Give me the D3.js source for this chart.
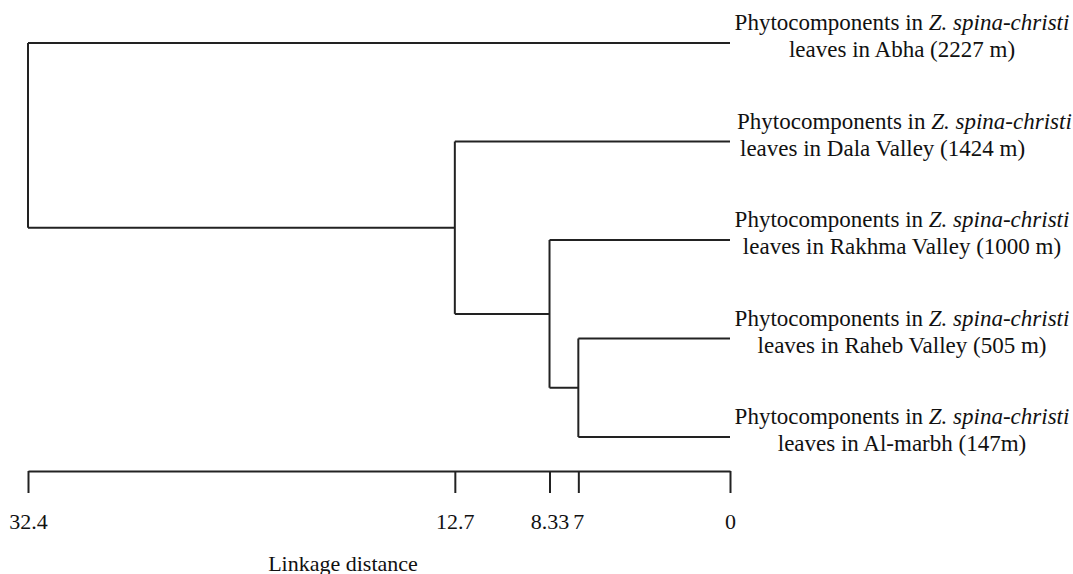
<!DOCTYPE html>
<meta charset="utf-8">
<script src="https://d3js.org/d3.v7.min.js"></script>
<style>
  body { margin: 0; background: #fff; }
  svg text { font-family: "Liberation Serif", "Times New Roman", serif; fill: #111; }
</style>
<body>
<div id="canvas"></div>
<script>

// leaves, top to bottom
var sites = ["Abha (2227 m)", "Dala Valley (1424 m)", "Rakhma Valley (1000 m)",
             "Raheb Valley (505 m)", "Al-marbh (147m)"];
// linkage: [child a, child b, distance]; index >= sites.length means a merged cluster
var linkage = [[3, 4, 7], [2, 5, 8.33], [1, 6, 12.7], [0, 7, 32.4]];
var tickValues = [32.4, 12.7, 8.33, 7, 0];
var axisTitle = "Linkage distance";

var width = 1073;
var height = 574;

var svg = d3.select('#canvas')
    .append("svg")
    .attr("width", width)
    .attr("height", height);

// build the tree from the linkage table
var nodes = sites.map(function(s){ return { name: s, dist: 0 }; });
linkage.forEach(function(m){
    nodes.push({ children: [nodes[m[0]], nodes[m[1]]], dist: m[2] });
});
var root = d3.hierarchy(nodes[nodes.length - 1]);

// d3.cluster leaves half a step at each end, so widen the band to put
// the first and last leaf exactly on yTop / yBottom
var yTop = 43, yBottom = 437;
var n = sites.length;
var band = (yBottom - yTop) * n / (n - 1);
d3.cluster().size([band, 1]).separation(function(){ return 1; })(root);

// escala x (distancia)
var x = d3.scaleLinear()
    .domain([32.4, 0])
    .range([28, 730]);
function y(d){ return yTop - band / (2 * n) + d.x; }

var lineColor = "#222";
var g = svg.append("g")
    .attr("fill", "none")
    .attr("stroke", lineColor)
    .attr("stroke-width", 2);

// verticals of each merge
root.descendants().filter(function(d){ return d.children; }).forEach(function(d){
    var ys = d.children.map(y);
    g.append("line")
        .attr("x1", x(d.data.dist)).attr("x2", x(d.data.dist))
        .attr("y1", d3.min(ys)).attr("y2", d3.max(ys));
});
// horizontals from parent to child
root.descendants().filter(function(d){ return d.parent; }).forEach(function(d){
    g.append("line")
        .attr("x1", x(d.parent.data.dist)).attr("x2", x(d.data.dist))
        .attr("y1", y(d)).attr("y2", y(d));
});

// leaf labels
var leftAligned = ["Dala Valley (1424 m)"];
root.leaves().forEach(function(d){
    var left = leftAligned.indexOf(d.data.name) >= 0;
    var t = svg.append("text")
        .attr("font-size", 23)
        .attr("text-anchor", left ? "start" : "middle");
    var tx = left ? 737 : 902;
    var l1 = t.append("tspan").attr("x", tx).attr("y", y(d) - 13);
    l1.append("tspan").text("Phytocomponents in ");
    l1.append("tspan").attr("font-style", "italic").text("Z. spina-christi");
    t.append("tspan").attr("x", tx + (left ? 3 : 0)).attr("y", y(d) + 14)
        .text("leaves in " + d.data.name);
});

// eixo x
var xAxis = d3.axisBottom(x)
    .tickValues(tickValues)
    .tickFormat(function(d){ return d; })
    .tickSize(22)
    .tickSizeOuter(0)
    .tickPadding(20);

var ax = svg.append("g")
    .attr("transform", "translate(0,471)")
    .call(xAxis);
ax.selectAll("path, line").attr("stroke", lineColor).attr("stroke-width", 2);
ax.selectAll("text")
    .attr("font-family", "Liberation Serif")
    .attr("font-size", 22)
    .attr("fill", "#111");

svg.append("text")
    .attr("x", 343)
    .attr("y", 571)
    .attr("text-anchor", "middle")
    .attr("font-size", 22)
    .text(axisTitle);

</script>
</body>
